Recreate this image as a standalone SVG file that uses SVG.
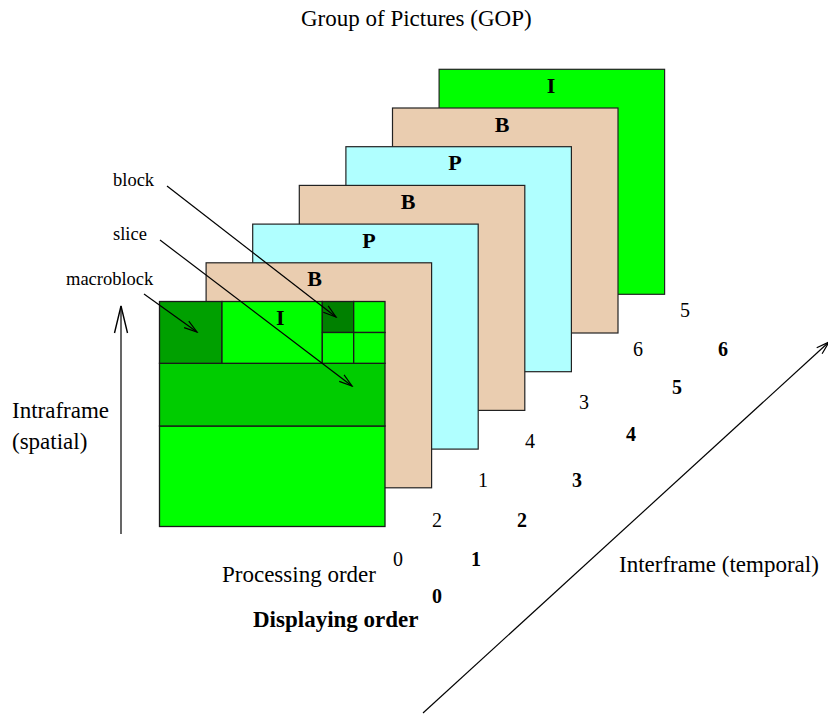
<svg xmlns="http://www.w3.org/2000/svg" width="828" height="719" viewBox="0 0 828 719">
  <style>
    .frame { stroke: #222; stroke-width: 1.2; }
    .tanf { fill: #EACDB0; }
    .cyanf { fill: #B0FFFF; }
    .greenf { fill: #00FF00; }
    .cell { stroke: #1a1a1a; stroke-width: 1.3; }
    .lbl { font-family: "Liberation Serif", "Times New Roman", serif; font-size: 23px; fill: #000; }
    .small { font-family: "Liberation Serif", "Times New Roman", serif; font-size: 18.5px; fill: #000; }
    .ftype { font-family: "Liberation Serif", "Times New Roman", serif; font-size: 22px; font-weight: bold; text-anchor: middle; fill: #000; }
    .num { font-family: "Liberation Serif", "Times New Roman", serif; font-size: 20px; text-anchor: middle; fill: #000; }
    .numb { font-family: "Liberation Serif", "Times New Roman", serif; font-size: 20px; font-weight: bold; text-anchor: middle; fill: #000; }
    .conn { stroke: #000; stroke-width: 1.2; fill: none; }
  </style>
  <defs>
    <marker id="openHead" markerUnits="userSpaceOnUse" markerWidth="16" markerHeight="10" refX="14" refY="5" orient="auto">
      <path d="M1,1 L14,5 L1,9" fill="none" stroke="#000" stroke-width="1.2"/>
    </marker>
    <marker id="openHeadLong" markerUnits="userSpaceOnUse" markerWidth="30" markerHeight="16" refX="28" refY="8" orient="auto">
      <path d="M1,1.5 L28,8 L1,14.5" fill="none" stroke="#000" stroke-width="1.4"/>
    </marker>
  </defs>

  <rect width="828" height="719" fill="#fff"/>

  <!-- Title -->
  <text class="lbl" x="301" y="26">Group of Pictures (GOP)</text>

  <!-- Frames of the GOP, drawn back to front -->
  <g id="frame-I-back">
    <rect class="frame greenf" x="439.1" y="69.3" width="225.5" height="225"/>
    <text class="ftype" x="551" y="93">I</text>
  </g>
  <g id="frame-B-5">
    <rect class="frame tanf" x="392.5" y="108" width="225.5" height="225"/>
    <text class="ftype" x="502" y="131.5">B</text>
  </g>
  <g id="frame-P-4">
    <rect class="frame cyanf" x="345.9" y="146.7" width="225.5" height="225"/>
    <text class="ftype" x="455" y="170">P</text>
  </g>
  <g id="frame-B-3">
    <rect class="frame tanf" x="299.3" y="185.4" width="225.5" height="225"/>
    <text class="ftype" x="408" y="209">B</text>
  </g>
  <g id="frame-P-2">
    <rect class="frame cyanf" x="252.7" y="224.1" width="225.5" height="225"/>
    <text class="ftype" x="369" y="248">P</text>
  </g>
  <g id="frame-B-1">
    <rect class="frame tanf" x="206.1" y="262.8" width="225.5" height="225"/>
    <text class="ftype" x="314.5" y="286">B</text>
  </g>

  <!-- Front I frame split into macroblocks, blocks and slices -->
  <g id="frame-I-front">
    <rect class="cell" fill="#00FF00" x="159.5" y="426" width="225.5" height="100.5"/>
    <rect class="cell" fill="#00CC00" x="159.5" y="363.3" width="225.5" height="62.7"/>
    <rect class="cell" fill="#00A000" x="159.5" y="301.5" width="62.5" height="61.8"/>
    <rect class="cell" fill="#00FF00" x="222" y="301.5" width="100.3" height="61.8"/>
    <rect class="cell" fill="#008000" x="322.3" y="301.5" width="31.4" height="31"/>
    <rect class="cell" fill="#00FF00" x="353.7" y="301.5" width="31.3" height="31"/>
    <rect class="cell" fill="#00FF00" x="322.3" y="332.5" width="31.4" height="30.8"/>
    <rect class="cell" fill="#00FF00" x="353.7" y="332.5" width="31.3" height="30.8"/>
    <text class="ftype" x="280.3" y="325">I</text>
  </g>

  <!-- Part labels -->
  <g id="label-block"><text class="small" x="113" y="186">block</text></g>
  <g id="label-slice"><text class="small" x="113" y="240">slice</text></g>
  <g id="label-macroblock"><text class="small" x="66" y="285">macroblock</text></g>

  <!-- Axis labels -->
  <g id="label-intraframe">
    <text class="lbl" x="12" y="418">Intraframe</text>
    <text class="lbl" x="12" y="449">(spatial)</text>
  </g>
  <g id="label-interframe"><text class="lbl" x="619" y="572">Interframe (temporal)</text></g>
  <g id="label-processing"><text class="lbl" x="222" y="582">Processing order</text></g>
  <g id="label-displaying"><text class="lbl" x="253" y="627" font-weight="bold">Displaying order</text></g>

  <!-- Processing order numbers -->
  <g id="processing-numbers">
    <text class="num" x="398" y="566">0</text>
    <text class="num" x="437" y="527">2</text>
    <text class="num" x="483" y="487">1</text>
    <text class="num" x="530" y="448">4</text>
    <text class="num" x="584" y="409">3</text>
    <text class="num" x="638" y="356">6</text>
    <text class="num" x="685" y="317">5</text>
  </g>

  <!-- Displaying order numbers -->
  <g id="displaying-numbers">
    <text class="numb" x="437" y="603">0</text>
    <text class="numb" x="476" y="566">1</text>
    <text class="numb" x="522" y="527">2</text>
    <text class="numb" x="577" y="487">3</text>
    <text class="numb" x="631" y="441">4</text>
    <text class="numb" x="677" y="394">5</text>
    <text class="numb" x="723" y="356">6</text>
  </g>

  <!-- Connectors -->
  <g id="connectors">
    <line class="conn" x1="167" y1="186" x2="336" y2="317" marker-end="url(#openHead)"/>
    <line class="conn" x1="160" y1="240" x2="352" y2="386" marker-end="url(#openHead)"/>
    <line class="conn" x1="144" y1="294" x2="197" y2="332" marker-end="url(#openHead)"/>
    <line class="conn" x1="121" y1="534" x2="121" y2="306" stroke-width="1.4" marker-end="url(#openHeadLong)"/>
    <line class="conn" x1="423" y1="713" x2="829" y2="342" marker-end="url(#openHead)"/>
  </g>
</svg>
